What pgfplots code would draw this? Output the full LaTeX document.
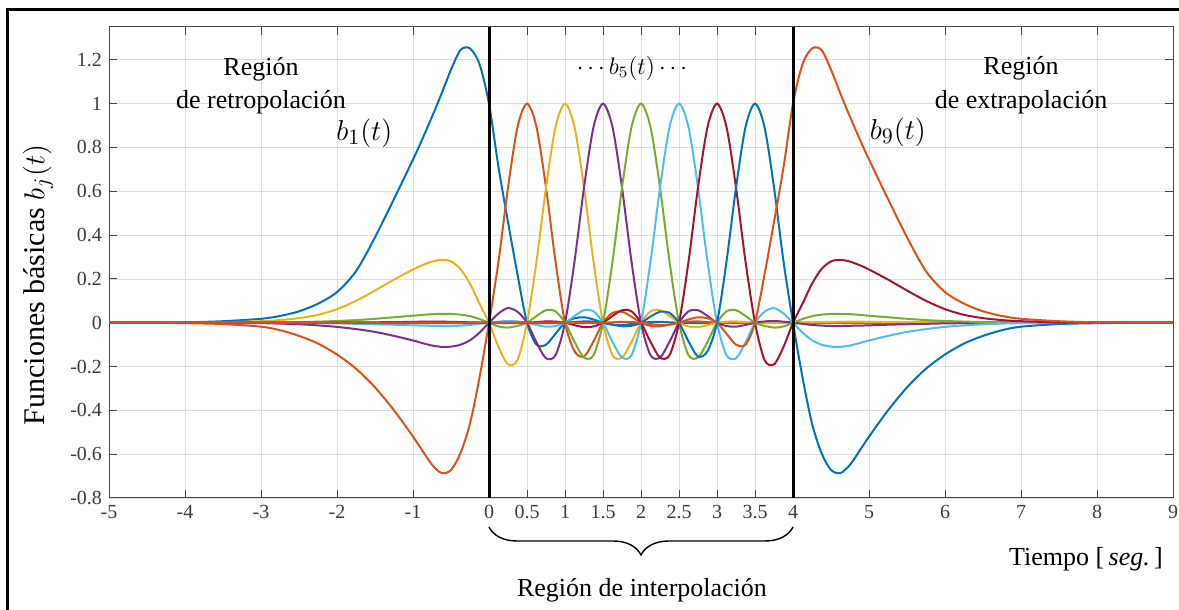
\documentclass[border=0pt]{standalone}
\usepackage{pgfplots}
\usepackage{pgfplotstable}
\pgfplotsset{compat=1.18}
\usetikzlibrary{decorations.pathreplacing}
\usepackage{fontspec}
\setmainfont{Liberation Serif}
\definecolor{mblue}{RGB}{0,114,189}
\definecolor{morange}{RGB}{217,83,25}
\definecolor{myellow}{RGB}{237,177,32}
\definecolor{mpurple}{RGB}{126,47,142}
\definecolor{mgreen}{RGB}{119,172,48}
\definecolor{mcyan}{RGB}{77,190,238}
\definecolor{mred}{RGB}{162,20,47}
\definecolor{tickgray}{RGB}{60,60,60}
\definecolor{axisgray}{RGB}{70,70,70}
\definecolor{gridgray}{RGB}{222,222,222}
\pgfplotstableread{
t b1 b2 b3 b4 b5
-5 0 0 0 0 0
-4.5 0.0005 -0.0005 0 0 0
-4 0.002 -0.002 0.0005 -0.0003 0
-3.5 0.007 -0.006 0.002 -0.001 0.0003
-3 0.018 -0.018 0.007 -0.002 0.001
-2.75 0.031 -0.034 0.012 -0.004 0.0015
-2.5 0.052 -0.06 0.021 -0.007 0.003
-2.25 0.087 -0.095 0.036 -0.012 0.005
-2 0.14 -0.145 0.062 -0.019 0.008
-1.75 0.235 -0.21 0.10 -0.029 0.012
-1.5 0.39 -0.295 0.147 -0.042 0.018
-1.25 0.565 -0.40 0.197 -0.06 0.025
-1 0.745 -0.52 0.243 -0.081 0.032
-0.875 0.84 -0.585 0.263 -0.093 0.036
-0.75 0.94 -0.648 0.279 -0.104 0.039
-0.625 1.045 -0.686 0.287 -0.11 0.041
-0.5 1.155 -0.672 0.28 -0.109 0.04
-0.375 1.245 -0.595 0.245 -0.10 0.037
-0.25 1.252 -0.46 0.178 -0.08 0.03
-0.125 1.18 -0.25 0.087 -0.045 0.017
0 1 0 0 0 0
0.125 0.71 0.28 -0.11 0.042 -0.017
0.25 0.46 0.617 -0.19 0.067 -0.022
0.375 0.22 0.893 -0.17 0.05 -0.014
0.5 0 1 0 0 0
0.625 -0.10 0.893 0.279 -0.09 0.031
0.75 -0.10 0.617 0.617 -0.162 0.057
0.875 -0.05 0.279 0.893 -0.148 0.052
1 0 0 1 0 0
1.125 0.02 -0.13 0.893 0.279 -0.087
1.25 0.025 -0.154 0.617 0.617 -0.159
1.375 0.015 -0.085 0.279 0.893 -0.148
1.5 0 0 0 1 0
1.625 -0.008 0.045 -0.148 0.893 0.279
1.75 -0.01 0.05 -0.159 0.617 0.617
1.875 -0.006 0.028 -0.087 0.279 0.893
2 0 0 0 0 1
2.125 0.003 -0.014 0.052 -0.148 0.893
2.25 0.004 -0.016 0.057 -0.159 0.617
2.375 0.002 -0.009 0.031 -0.087 0.279
2.5 0 0 0 0 0
2.625 -0.001 0.005 -0.017 0.052 -0.148
2.75 -0.002 0.006 -0.02 0.057 -0.159
2.875 -0.001 0.003 -0.011 0.031 -0.087
3 0 0 0 0 0
3.125 0 -0.001 0.005 -0.015 0.052
3.25 0 -0.002 0.006 -0.018 0.057
3.375 0 -0.001 0.003 -0.01 0.031
3.5 0 0 0 0 0
3.625 0 0.0005 -0.001 0.006 -0.014
3.75 0 0.001 -0.002 0.008 -0.022
3.875 0 0.0005 -0.001 0.005 -0.017
4 0 0 0 0 0
4.125 0 -0.0005 0.001 -0.005 0.017
4.25 0 -0.001 0.002 -0.01 0.03
4.375 0 -0.0015 0.003 -0.013 0.037
4.5 0 -0.002 0.004 -0.015 0.04
4.625 0 -0.002 0.005 -0.015 0.041
4.75 0 -0.002 0.005 -0.014 0.039
4.875 0 -0.002 0.005 -0.013 0.036
5 0 -0.002 0.004 -0.012 0.032
5.25 0 -0.0015 0.003 -0.009 0.025
5.5 0 -0.001 0.002 -0.007 0.018
5.75 0 -0.0007 0.0015 -0.005 0.012
6 0 -0.0005 0.001 -0.003 0.008
6.5 0 0 0.0005 -0.001 0.003
7 0 0 0 0 0.001
7.5 0 0 0 0 0.0003
8 0 0 0 0 0
9 0 0 0 0 0
}\data
\begin{document}
\begin{tikzpicture}
\begin{axis}[
  at={(54.5pt,56pt)}, anchor=south west,
  scale only axis, width=532pt, height=235.5pt,
  xmin=-5, xmax=9, ymin=-0.8, ymax=1.35,
  xtick={-5,-4,-3,-2,-1,0,0.5,1,1.5,2,2.5,3,3.5,4,5,6,7,8,9},
  xticklabels={-5,-4,-3,-2,-1,0,0.5,1,1.5,2,2.5,3,3.5,4,5,6,7,8,9},
  ytick={-0.8,-0.6,-0.4,-0.2,0,0.2,0.4,0.6,0.8,1,1.2},
  yticklabels={-0.8,-0.6,-0.4,-0.2,0,0.2,0.4,0.6,0.8,1,1.2},
  tick label style={font=\fontsize{10}{12}\selectfont, text=tickgray},
  grid=major, major grid style={gridgray, line width=0.4pt},
  axis line style={axisgray, line width=0.5pt},
  major tick style={axisgray, line width=0.5pt},
  major tick length=4pt, tick align=inside,
  every axis plot/.append style={line width=1pt, smooth},
]
\addplot[mblue] table[x=t, y=b1] {\data};
\addplot[morange] table[x=t, y=b2] {\data};
\addplot[myellow] table[x=t, y=b3] {\data};
\addplot[mpurple] table[x=t, y=b4] {\data};
\addplot[mgreen] table[x=t, y=b5] {\data};
\addplot[mcyan] table[x expr=4-\thisrow{t}, y=b4] {\data};
\addplot[mred] table[x expr=4-\thisrow{t}, y=b3] {\data};
\addplot[mblue] table[x expr=4-\thisrow{t}, y=b2] {\data};
\addplot[morange] table[x expr=4-\thisrow{t}, y=b1] {\data};
\draw[black, line width=1.5pt] (axis cs:0,-0.8) -- (axis cs:0,1.35);
\draw[black, line width=1.5pt] (axis cs:4,-0.8) -- (axis cs:4,1.35);
\begin{scope}[every node/.style={font=\fontsize{13}{15.6}\selectfont}]
\node[anchor=base] at (axis cs:-3,1.129) {Región};
\node[anchor=base] at (axis cs:-3,0.979) {de retropolación};
\node[font=\fontsize{15.5}{18}\selectfont] at (axis cs:-1.64,0.864) {$b_1(t)$};
\node[font=\fontsize{12}{14}\selectfont] at (axis cs:1.88,1.161) {$\cdots b_5(t)\cdots$};
\node[font=\fontsize{15.5}{18}\selectfont] at (axis cs:5.38,0.869) {$b_9(t)$};
\node[anchor=base] at (axis cs:7,1.133) {Región};
\node[anchor=base] at (axis cs:7,0.98) {de extrapolación};
\end{scope}
\end{axis}
\node[rotate=90, font=\fontsize{15}{18}\selectfont] at (19pt,162.5pt) {Funciones básicas $b_j(t)$};
\node[font=\fontsize{13}{15.6}\selectfont] at (543pt,25.5pt) {Tiempo [\,\textit{seg.}\,]};
\node[font=\fontsize{13}{15.6}\selectfont] at (321pt,10pt) {Región de interpolación};
\draw[line width=0.7pt, decorate, decoration={brace, amplitude=14pt, mirror}] (244.5pt,41.5pt) -- (396.5pt,41.5pt);
\draw[line width=1.5pt] (3.5pt,0pt) -- (3.5pt,300pt) -- (590pt,300pt);
\pgfresetboundingbox
\path[use as bounding box] (0,0) rectangle (589.5pt,305pt);
\end{tikzpicture}
\end{document}
